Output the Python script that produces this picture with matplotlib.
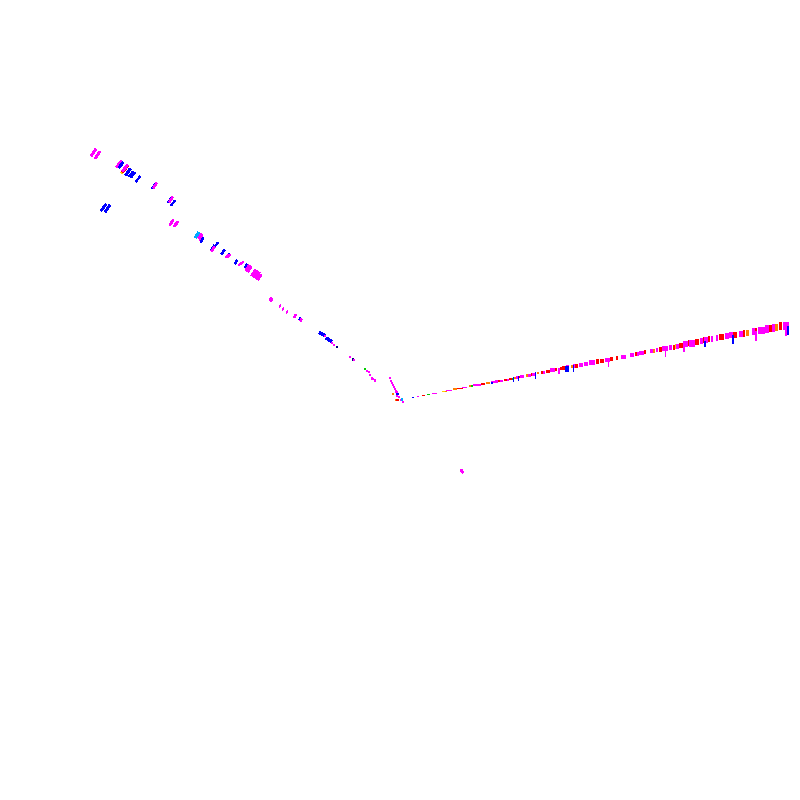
import matplotlib
matplotlib.use("Agg")
import numpy as np
import matplotlib.pyplot as plt

M, B, R, O, Y, G, C, K = "#ff00ff", "#0000ff", "#ff0000", "#ff8000", "#ffcc00", "#00cc00", "#00aaff", "#000080"

# right arm: left edge, width, centre, height, colour
right_x = [412,417,422,427,432,442,445,446,453,457,462,469,471,473,477,481,486,491,495,498,
           500,504,507,509,512,514,516,519,520,526,528,531,532,537,541,543,546,550,555,558,
           560,562,566,571,573,575,579,584,589,596,600,605,610,616,621,630,635,637,639,644,
           650,653,656,659,662,669,673,675,676,679,683,688,689,695,700,703,704,708,711,716,
           719,725,729,733,735,739,743,746,752,755,758,762,765,769,772,775,779,783]
right_w = [2,2,3,3,5,3,2,6,4,6,5,3,2,4,4,4,4,4,3,2,
           3,3,2,3,2,2,3,2,4,2,3,2,4,2,2,2,4,5,2,2,
           2,3,3,2,2,3,4,4,6,3,4,5,3,2,5,4,2,2,5,2,
           3,2,2,3,6,3,2,2,3,4,5,2,6,4,3,2,4,2,2,2,
           5,4,4,2,2,4,2,3,3,2,4,3,4,3,3,3,3,6]
right_y = [397,396.5,395.5,394.5,393.5,391.5,391,390.5,389,388.5,387.5,386,386,385,384.5,384,383,382,381.5,381,
           380.5,380,379.5,379,378.5,378,377.5,377,376.5,375.5,375,374.5,374,373,372.5,372,371,370,369.5,369.5,
           368.5,368,367,366.5,366,365.5,365,364,362.5,361.5,361,360,359,358,357,355,354,353.5,353,352,
           351,350.5,350,349.5,348,347,347,346,346,345,344,343,343.5,342,341,340,340,339,339,338,
           337,336,335,335,335,334,333.5,333,331.5,331,330.5,330,329,328.5,328,327,326,325.5]
right_h = [1,1,1,1,1,1,1,1,1.5,1.5,1.5,1.5,1.5,2,2,2,2,2,3,2,
           2,2,2,2,2,2,2.5,2.5,3,3,3,3,3,2.5,3,3,3,3.5,3,4,
           3.5,3.5,4,3,4,4,4,4,4.5,4.5,4,4.5,4,4,4,4.5,4.5,4,4.5,4.5,
           4.5,4,4.5,4.5,5,5,5,5,5,5,5.5,5.5,6.5,6,6,5.5,6,6,6,6,
           6,6.5,6,6.5,6,6,6.5,6,7,6.5,7,7,7.5,7,8,7,7.5,8]
right_c = [B,M,R,G,M,Y,O,M,O,R,M,O,G,M,M,R,O,M,M,R,
           M,R,M,R,G,O,M,R,M,O,M,R,M,O,R,M,R,M,R,M,
           R,R,M,O,M,R,M,M,M,R,R,M,R,R,M,M,R,M,M,R,
           M,O,M,R,M,M,R,Y,M,R,M,R,M,R,M,R,M,R,M,M,
           R,M,M,R,R,M,R,O,M,R,M,M,M,R,M,O,R,M]

# drops hanging from the right arm: x, lower end, width, colour
drop_x = [492,513,518,535,559,566,568,573,608,665,684,705,733,756,786,787.5]
drop_y = [384,381,380,378,374,372,372,371,366,356,352,347,344,341,336,335]
drop_w = [2,1,1,1,2,2,2,1,1,1,2,2,2,2,1.5,1.5]
drop_c = [B,B,B,B,M,B,B,B,M,M,M,B,B,M,M,B]
drop_top = [382,377,376,372,368,366,366,365,360,350,345,341,335,331,325,326]

# left arm: centre x, centre y, dash length, width, colour
left_x = [93.5,97.5,119,121,124,125,125,128,131,133,138,154,155,170,171,173,103.5,107.5,171.5,176,
          197,200,201,202,216,213,213,223,228,227,229,236,240,242,246,248,249,254,257,259,
          271,280,283,287,295,300,301,
          320,322,324,327,329,331,325,332,334,337,350,353,354,365,367,369,370,372,373,375,
          390,391,392,393,394,395,396,396.5,397,397.5,393,397,399,396.5,397.5,401,402,403,
          461.5,462.5]
left_y = [152.5,155,164,165,170,169,168,172,174,175,179,186,185.5,200,199.5,203,207.5,208.5,222.5,224,
          235,236,238,240,245,248,249,252,255,256,256,262,264,263,266,268,269,273,275,277,
          299.5,306,309,312,316,319,320,
          333,334,335,338.5,340,341,336,343,345,347,357,359.5,360,369,371,372,375,378.5,379,380.5,
          378,381,383,385,387,389,391,392,394,394,394,396,397,400,400,400,399.5,402,
          470.5,472]
left_l = [8,8,8,7,8,8,8,8,6,6,7,6,6,6,6,6,8,8,6,6,
          6,5,5,5,6,6,5,5,4,4,4,4,4,4,4,6,6,7,7,6,
          3,2,2,2,3,2,2,
          2,2,2,2,2,2,1.5,1.5,1.5,1,1,1,1,1,1,1,1,1,1,1,
          1.5,1.5,1.5,1.5,1.5,1.5,1.5,1.5,1.5,1,1,1,1,1,1,1,1,1,
          2,2]
left_t = [1.8,1.8,1.8,1.8,1.8,1.8,1.8,2,1,1,1,1.5,1.5,1.5,1.5,1,1.5,1.8,1.8,1.8,
          2,1.5,1.2,1.2,1,2,1.5,1.5,1,1,1,1.5,1,1,1.5,2.5,2.5,2.5,2.5,2.5,
          2.5,1,1,1,1.5,1.5,1.5,
          1.5,1.5,2,2,1.5,1.5,1,1,1,1,1,1,1,1,1,1,1,1,1,1,
          1,1,1,1,1,1,1,1,1,1,1,1,1,1,1,1,1,1,
          1.5,1.5]
left_c = [M,M,M,B,Y,R,M,B,B,B,B,B,M,B,M,B,B,B,M,M,
          C,M,M,B,B,B,M,B,B,M,M,B,M,M,B,M,M,M,M,M,
          M,M,M,M,M,B,M,
          B,B,B,B,B,B,M,M,M,K,M,K,M,G,M,M,M,M,M,M,
          M,M,M,M,M,M,M,M,M,B,O,M,M,O,R,M,C,M,
          M,M]

DASH_ANGLE = np.deg2rad(55)
PX = 72 / 100

fig = plt.figure(figsize=(8, 8), dpi=100, facecolor="white")
ax = fig.add_axes([0, 0, 1, 1])
ax.set_xlim(0, 800)
ax.set_ylim(800, 0)
ax.axis("off")

for x, top, low, w, c in zip(drop_x, drop_top, drop_y, drop_w, drop_c):
    ax.vlines(x, top, low, colors=c, linewidth=w * PX, antialiased=False)

ax.bar(right_x, right_h, width=right_w, bottom=np.array(right_y) - np.array(right_h) / 2,
       color=right_c, align="edge", linewidth=0, antialiased=False)

for x, y, l, t, c in zip(left_x, left_y, left_l, left_t, left_c):
    dx, dy = l / 2 * np.cos(DASH_ANGLE), l / 2 * np.sin(DASH_ANGLE)
    ax.plot([x - dx, x + dx], [y + dy, y - dy], color=c, linewidth=t * PX,
            solid_capstyle="butt", antialiased=False)

fig.savefig("out.png", dpi=100, facecolor="white")
